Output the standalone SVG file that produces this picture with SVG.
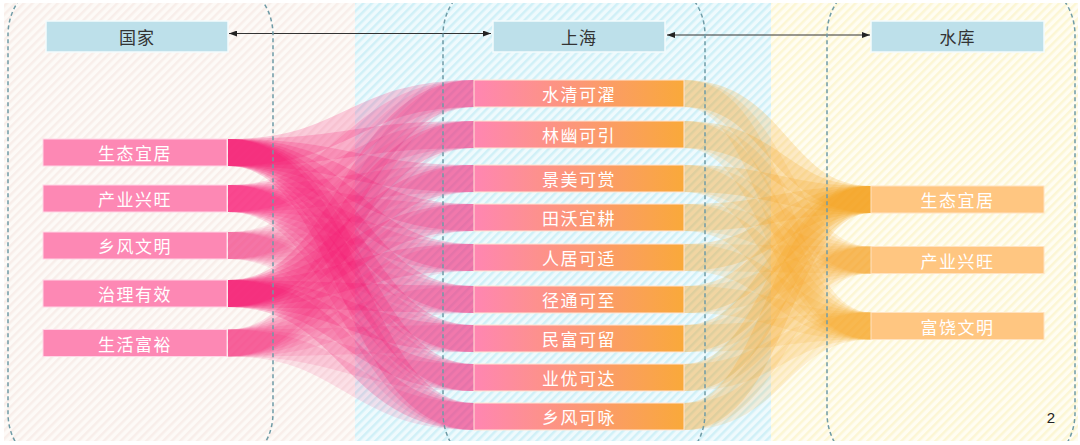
<svg xmlns="http://www.w3.org/2000/svg" width="1080" height="445" viewBox="0 0 1080 445">
<style>
.hdr{fill:#bde0ea;stroke:#f4fbfd;stroke-width:1.5}
.hdrt{font-family:"Noto Sans CJK SC","Noto Sans",sans-serif;font-size:17px;fill:#333;text-anchor:middle;dominant-baseline:central;letter-spacing:1px}
.nt{font-family:"Noto Sans CJK SC","Noto Sans",sans-serif;font-size:17px;fill:#fff;text-anchor:middle;dominant-baseline:central;letter-spacing:1.5px}
.ln{fill:#fd88b4;stroke:#ffd6e6;stroke-width:1}
.mn{fill:url(#mg);stroke:#ffe6d6;stroke-width:1}
.rn{fill:#ffc681;stroke:#ffe2c0;stroke-width:1}
.panel{fill:none;stroke:#6e9ba6;stroke-width:1.5;stroke-dasharray:4 3}
.pf path{fill:none;stroke:#f5126f;stroke-width:27}
.of path{fill:none;stroke:#f7a01a;stroke-width:27}
.arr{stroke:#333;stroke-width:1.2;fill:none}
</style>
<defs>
<pattern id="hp" width="6" height="6" patternUnits="userSpaceOnUse" patternTransform="rotate(45)">
<rect width="6" height="6" fill="#fdfaf7"/><rect width="2.5" height="6" fill="#f8eeea"/>
</pattern>
<pattern id="hc" width="6" height="6" patternUnits="userSpaceOnUse" patternTransform="rotate(45)">
<rect width="6" height="6" fill="#effafd"/><rect width="2.5" height="6" fill="#d0f0f7"/>
</pattern>
<pattern id="hy" width="6" height="6" patternUnits="userSpaceOnUse" patternTransform="rotate(45)">
<rect width="6" height="6" fill="#fffdf2"/><rect width="2.5" height="6" fill="#fcf6d4"/>
</pattern>
<linearGradient id="mg" x1="0" y1="0" x2="1" y2="0">
<stop offset="0" stop-color="#ff86b2"/><stop offset="1" stop-color="#f9a93a"/>
</linearGradient>
<clipPath id="clip"><rect x="4" y="3" width="1074" height="438"/></clipPath>
<marker id="ah" viewBox="0 0 8 6" refX="8" refY="3" markerWidth="8" markerHeight="6" markerUnits="userSpaceOnUse" orient="auto-start-reverse">
<path d="M0 0L8 3L0 6z" fill="#222"/>
</marker>
</defs>
<rect width="1080" height="445" fill="#fff"/>
<g id="background">
<rect x="4" y="3" width="351" height="438" fill="url(#hp)"/>
<rect x="355" y="3" width="416" height="438" fill="url(#hc)"/>
<rect x="771" y="3" width="307" height="438" fill="url(#hy)"/>
</g>
<g id="connectors" clip-path="url(#clip)">
<g class="pf" stroke-opacity="0.2">
<path d="M228 152.5C351 152.5 351 93.5 474 93.5"/>
<path d="M228 152.5C351 152.5 351 134.5 474 134.5"/>
<path d="M228 152.5C351 152.5 351 178.5 474 178.5"/>
<path d="M228 152.5C351 152.5 351 217.5 474 217.5"/>
<path d="M228 152.5C351 152.5 351 257.5 474 257.5"/>
<path d="M228 152.5C351 152.5 351 299.5 474 299.5"/>
<path d="M228 152.5C351 152.5 351 338.5 474 338.5"/>
<path d="M228 152.5C351 152.5 351 377.5 474 377.5"/>
<path d="M228 152.5C351 152.5 351 416.5 474 416.5"/>
</g>
<g class="pf" stroke-opacity="0.15">
<path d="M228 198.5C351 198.5 351 93.5 474 93.5"/>
<path d="M228 198.5C351 198.5 351 134.5 474 134.5"/>
<path d="M228 198.5C351 198.5 351 178.5 474 178.5"/>
<path d="M228 198.5C351 198.5 351 217.5 474 217.5"/>
<path d="M228 198.5C351 198.5 351 257.5 474 257.5"/>
<path d="M228 198.5C351 198.5 351 299.5 474 299.5"/>
<path d="M228 198.5C351 198.5 351 338.5 474 338.5"/>
<path d="M228 198.5C351 198.5 351 377.5 474 377.5"/>
<path d="M228 198.5C351 198.5 351 416.5 474 416.5"/>
</g>
<g class="pf" stroke-opacity="0.09">
<path d="M228 245.5C351 245.5 351 93.5 474 93.5"/>
<path d="M228 245.5C351 245.5 351 134.5 474 134.5"/>
<path d="M228 245.5C351 245.5 351 178.5 474 178.5"/>
<path d="M228 245.5C351 245.5 351 217.5 474 217.5"/>
<path d="M228 245.5C351 245.5 351 257.5 474 257.5"/>
<path d="M228 245.5C351 245.5 351 299.5 474 299.5"/>
<path d="M228 245.5C351 245.5 351 338.5 474 338.5"/>
<path d="M228 245.5C351 245.5 351 377.5 474 377.5"/>
<path d="M228 245.5C351 245.5 351 416.5 474 416.5"/>
</g>
<g class="pf" stroke-opacity="0.2">
<path d="M228 293.5C351 293.5 351 93.5 474 93.5"/>
<path d="M228 293.5C351 293.5 351 134.5 474 134.5"/>
<path d="M228 293.5C351 293.5 351 178.5 474 178.5"/>
<path d="M228 293.5C351 293.5 351 217.5 474 217.5"/>
<path d="M228 293.5C351 293.5 351 257.5 474 257.5"/>
<path d="M228 293.5C351 293.5 351 299.5 474 299.5"/>
<path d="M228 293.5C351 293.5 351 338.5 474 338.5"/>
<path d="M228 293.5C351 293.5 351 377.5 474 377.5"/>
<path d="M228 293.5C351 293.5 351 416.5 474 416.5"/>
</g>
<g class="pf" stroke-opacity="0.11">
<path d="M228 343C351 343 351 93.5 474 93.5"/>
<path d="M228 343C351 343 351 134.5 474 134.5"/>
<path d="M228 343C351 343 351 178.5 474 178.5"/>
<path d="M228 343C351 343 351 217.5 474 217.5"/>
<path d="M228 343C351 343 351 257.5 474 257.5"/>
<path d="M228 343C351 343 351 299.5 474 299.5"/>
<path d="M228 343C351 343 351 338.5 474 338.5"/>
<path d="M228 343C351 343 351 377.5 474 377.5"/>
<path d="M228 343C351 343 351 416.5 474 416.5"/>
</g>
<g class="of" stroke-opacity="0.2">
<path d="M684 93.5C777.5 93.5 777.5 199.5 871 199.5"/>
<path d="M684 134.5C777.5 134.5 777.5 199.5 871 199.5"/>
<path d="M684 178.5C777.5 178.5 777.5 199.5 871 199.5"/>
<path d="M684 217.5C777.5 217.5 777.5 199.5 871 199.5"/>
<path d="M684 257.5C777.5 257.5 777.5 199.5 871 199.5"/>
<path d="M684 299.5C777.5 299.5 777.5 199.5 871 199.5"/>
<path d="M684 338.5C777.5 338.5 777.5 199.5 871 199.5"/>
<path d="M684 377.5C777.5 377.5 777.5 199.5 871 199.5"/>
<path d="M684 416.5C777.5 416.5 777.5 199.5 871 199.5"/>
</g>
<g class="of" stroke-opacity="0.12">
<path d="M684 93.5C777.5 93.5 777.5 260 871 260"/>
<path d="M684 134.5C777.5 134.5 777.5 260 871 260"/>
<path d="M684 178.5C777.5 178.5 777.5 260 871 260"/>
<path d="M684 217.5C777.5 217.5 777.5 260 871 260"/>
<path d="M684 257.5C777.5 257.5 777.5 260 871 260"/>
<path d="M684 299.5C777.5 299.5 777.5 260 871 260"/>
<path d="M684 338.5C777.5 338.5 777.5 260 871 260"/>
<path d="M684 377.5C777.5 377.5 777.5 260 871 260"/>
<path d="M684 416.5C777.5 416.5 777.5 260 871 260"/>
</g>
<g class="of" stroke-opacity="0.14">
<path d="M684 93.5C777.5 93.5 777.5 326 871 326"/>
<path d="M684 134.5C777.5 134.5 777.5 326 871 326"/>
<path d="M684 178.5C777.5 178.5 777.5 326 871 326"/>
<path d="M684 217.5C777.5 217.5 777.5 326 871 326"/>
<path d="M684 257.5C777.5 257.5 777.5 326 871 326"/>
<path d="M684 299.5C777.5 299.5 777.5 326 871 326"/>
<path d="M684 338.5C777.5 338.5 777.5 326 871 326"/>
<path d="M684 377.5C777.5 377.5 777.5 326 871 326"/>
<path d="M684 416.5C777.5 416.5 777.5 326 871 326"/>
</g>
<path class="arr" d="M229 33.5H491" marker-start="url(#ah)" marker-end="url(#ah)"/>
<path class="arr" d="M667 35H870" marker-start="url(#ah)" marker-end="url(#ah)"/>
</g>
<g id="panels" clip-path="url(#clip)">
<rect id="panel-guojia" class="panel" x="8" y="-15" width="265" height="478" rx="40" ry="50"/>
<rect id="panel-shanghai" class="panel" x="443" y="-15" width="262" height="478" rx="40" ry="50"/>
<rect id="panel-shuiku" class="panel" x="827" y="-15" width="248" height="478" rx="40" ry="50"/>
</g>
<g id="hdr-guojia"><rect class="hdr" x="46" y="21" width="182" height="31"/><text class="hdrt" x="137" y="36.5">国家</text></g>
<g id="hdr-shanghai"><rect class="hdr" x="493" y="21" width="172" height="31"/><text class="hdrt" x="579" y="36.5">上海</text></g>
<g id="hdr-shuiku"><rect class="hdr" x="871" y="21" width="173" height="31"/><text class="hdrt" x="957.5" y="36.5">水库</text></g>
<g id="l1"><rect class="ln" x="43" y="139" width="184" height="27"/><text class="nt" x="135" y="152.5">生态宜居</text></g>
<g id="l2"><rect class="ln" x="43" y="185" width="184" height="27"/><text class="nt" x="135" y="198.5">产业兴旺</text></g>
<g id="l3"><rect class="ln" x="43" y="232" width="184" height="27"/><text class="nt" x="135" y="245.5">乡风文明</text></g>
<g id="l4"><rect class="ln" x="43" y="280" width="184" height="27"/><text class="nt" x="135" y="293.5">治理有效</text></g>
<g id="l5"><rect class="ln" x="43" y="329.5" width="184" height="27"/><text class="nt" x="135" y="343">生活富裕</text></g>
<g id="m1"><rect class="mn" x="474" y="80" width="210" height="27"/><text class="nt" x="579" y="93.5">水清可濯</text></g>
<g id="m2"><rect class="mn" x="474" y="121" width="210" height="27"/><text class="nt" x="579" y="134.5">林幽可引</text></g>
<g id="m3"><rect class="mn" x="474" y="165" width="210" height="27"/><text class="nt" x="579" y="178.5">景美可赏</text></g>
<g id="m4"><rect class="mn" x="474" y="204" width="210" height="27"/><text class="nt" x="579" y="217.5">田沃宜耕</text></g>
<g id="m5"><rect class="mn" x="474" y="244" width="210" height="27"/><text class="nt" x="579" y="257.5">人居可适</text></g>
<g id="m6"><rect class="mn" x="474" y="286" width="210" height="27"/><text class="nt" x="579" y="299.5">径通可至</text></g>
<g id="m7"><rect class="mn" x="474" y="325" width="210" height="27"/><text class="nt" x="579" y="338.5">民富可留</text></g>
<g id="m8"><rect class="mn" x="474" y="364" width="210" height="27"/><text class="nt" x="579" y="377.5">业优可达</text></g>
<g id="m9"><rect class="mn" x="474" y="403" width="210" height="27"/><text class="nt" x="579" y="416.5">乡风可咏</text></g>
<g id="r1"><rect class="rn" x="871" y="186" width="173" height="27"/><text class="nt" x="957.5" y="199.5">生态宜居</text></g>
<g id="r2"><rect class="rn" x="871" y="246.5" width="173" height="27"/><text class="nt" x="957.5" y="260">产业兴旺</text></g>
<g id="r3"><rect class="rn" x="871" y="312.5" width="173" height="27"/><text class="nt" x="957.5" y="326">富饶文明</text></g>
<text x="1051" y="423" font-family="Liberation Sans, Arial, sans-serif" font-size="15" fill="#222" text-anchor="middle">2</text>
</svg>
